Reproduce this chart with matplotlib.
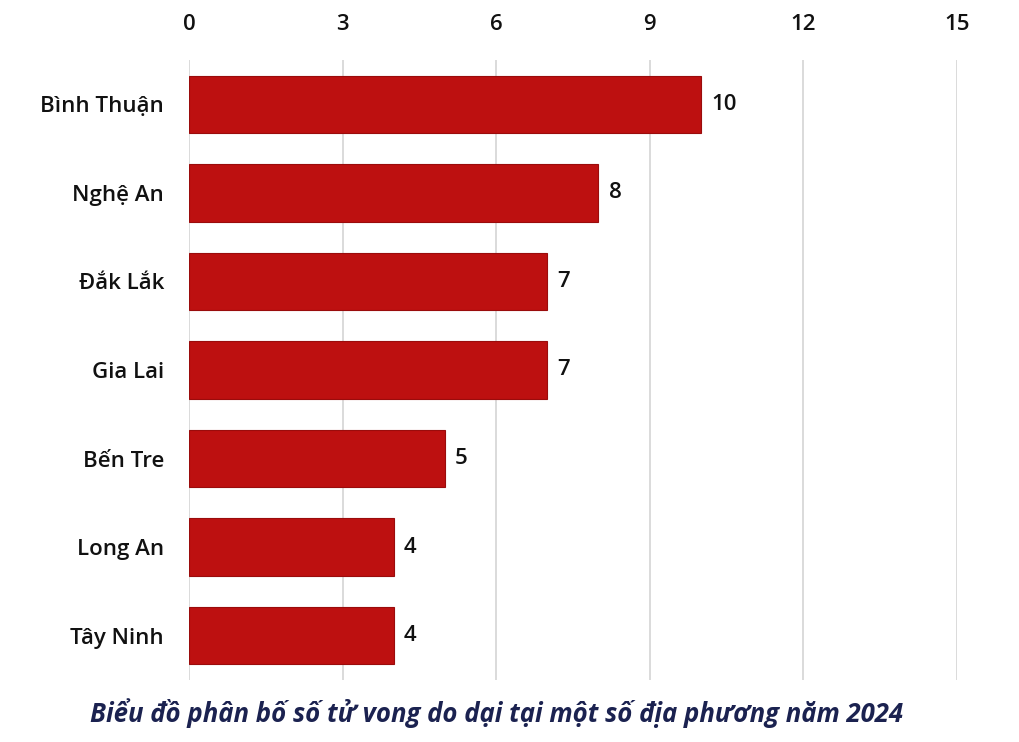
import matplotlib.pyplot as plt

provinces = ["Bình Thuận", "Nghệ An", "Đắk Lắk", "Gia Lai", "Bến Tre", "Long An", "Tây Ninh"]
deaths = [10, 8, 7, 7, 5, 4, 4]
xticks = [0, 3, 6, 9, 12, 15]
title = "Biểu đồ phân bố số tử vong do dại tại một số địa phương năm 2024"

plt.rcParams['font.family'] = ['Open Sans', 'DejaVu Sans']

fig = plt.figure(figsize=(10.2, 7.42), dpi=100)
ax = fig.add_axes([0.1853, 0.0836, 0.7527, 0.8355])

y = list(range(len(provinces)))
ax.barh(y, deaths, height=0.65, color="#bd1010", edgecolor="#9a0c0c", linewidth=0.8, zorder=3)
for yi, v in zip(y, deaths):
  ax.text(v + 0.2, yi, str(v), va="center", ha="left", fontsize=16,
          fontweight="semibold", color="#111111")

ax.set_xlim(0, 15)
ax.set_ylim(len(provinces) - 0.5, -0.5)
ax.xaxis.tick_top()
ax.set_xticks(xticks)
ax.set_xticklabels([str(t) for t in xticks], fontsize=16, fontweight="semibold", color="#111111")
ax.set_yticks(y)
ax.set_yticklabels(provinces, fontsize=16, fontweight="semibold", color="#111111")
ax.tick_params(axis="x", length=0, pad=18)
ax.tick_params(axis="y", length=0, pad=18)
ax.grid(axis="x", color="#d4d4d4", linewidth=1.2, zorder=0)
for s in ax.spines.values():
  s.set_visible(False)

fig.text(0.487, 0.039, title, ha="center", va="center", fontsize=18.5,
         fontweight="bold", fontstyle="italic", color="#1b2250")

fig.savefig("out.png", dpi=100)
